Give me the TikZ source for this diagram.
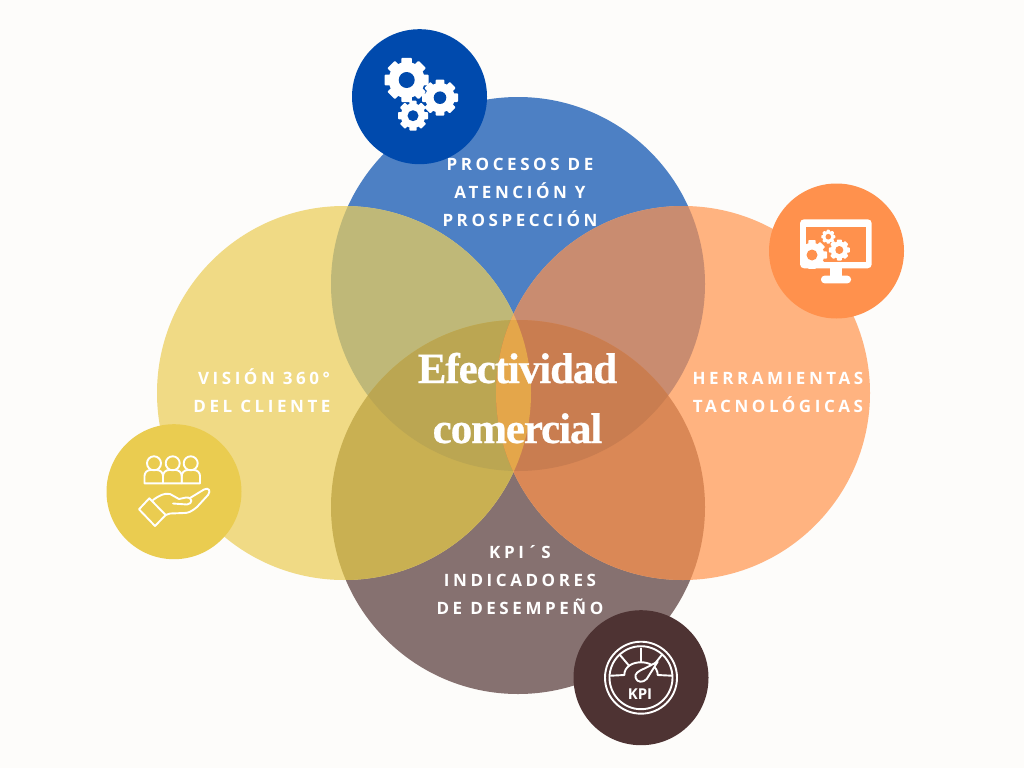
\documentclass[tikz,border=0pt]{standalone}
\usepackage{fontspec}
\setmainfont{Liberation Serif}
\newfontfamily\lbl[LetterSpace=21]{Open Sans}
\newfontfamily\kpif{Open Sans}
\newfontfamily\ttl[LetterSpace=-2.5,FakeBold=0.6]{Liberation Serif Bold}
\definecolor{bgc}{HTML}{FDFCFA}
\definecolor{cB}{HTML}{4D80C4}
\definecolor{cY}{HTML}{F0DA85}
\definecolor{cO}{HTML}{FFB380}
\definecolor{cK}{HTML}{867170}
\definecolor{cBY}{HTML}{BFB878}
\definecolor{cBO}{HTML}{C98C70}
\definecolor{cYK}{HTML}{C9B052}
\definecolor{cOK}{HTML}{DA8856}
\definecolor{cBYK}{HTML}{BBA652}
\definecolor{cBOK}{HTML}{C97D50}
\definecolor{cYO}{HTML}{EDB060}
\definecolor{cAll}{HTML}{E4A64A}
\definecolor{iB}{HTML}{004AAD}
\definecolor{iO}{HTML}{FF914D}
\definecolor{iY}{HTML}{EACC50}
\definecolor{iK}{HTML}{4E3333}
\def\pB{(518,284) circle[radius=187]}
\def\pY{(344,393) circle[radius=187]}
\def\pO{(683,393) circle[radius=187]}
\def\pK{(518,507) circle[radius=187]}
\newcommand{\ovtwo}[3]{\begin{scope}\clip #1;\fill[#3] #2;\end{scope}}
\newcommand{\ovthree}[4]{\begin{scope}\clip #1;\clip #2;\fill[#4] #3;\end{scope}}
% centre x, centre y, outer radius, hole radius, hole colour
\newcommand{\gearicon}[5]{%
  \fill[white] (#1,#2) circle[radius=#3*0.82];
  \foreach \a in {0,45,...,315}{
    \fill[white,rounded corners=0.8pt,rotate around={\a:(#1,#2)}]
      ({#1-#3*0.24},#2) rectangle ({#1+#3*0.24},{#2-#3});
  }
  \fill[#5] (#1,#2) circle[radius=#4];
}
\tikzset{
  lab/.style={text=white,font=\lbl\bfseries\fontsize{17}{20}\selectfont,inner sep=0pt,anchor=base},
  titl/.style={text=white,font=\ttl\fontsize{43}{48}\selectfont,inner sep=0pt,anchor=base},
  iline/.style={draw=white,line width=1.9pt,line join=round,line cap=round},
}
\begin{document}
\begin{tikzpicture}[x=1pt,y=-1pt]
\useasboundingbox (0,0) rectangle (1024,768);
\fill[bgc] (0,0) rectangle (1024,768);
% large circles
\fill[cB] \pB; \fill[cK] \pK; \fill[cY] \pY; \fill[cO] \pO;
\ovtwo{\pB}{\pY}{cBY}
\ovtwo{\pB}{\pO}{cBO}
\ovtwo{\pY}{\pK}{cYK}
\ovtwo{\pO}{\pK}{cOK}
\ovtwo{\pY}{\pO}{cYO}
\ovthree{\pB}{\pY}{\pK}{cBYK}
\ovthree{\pB}{\pO}{\pK}{cBOK}
\begin{scope}\clip \pB;\clip \pK;\clip \pY;\fill[cAll] \pO;\end{scope}
% labels
\node[lab] (p1) at (520,170) {PROCESOS DE};
\node[lab] (p2) at (520,198) {ATENCIÓN Y};
\node[lab] (p3) at (520,226) {PROSPECCIÓN};
\node[lab] (v1) at (264,384) {VISIÓN 360°};
\node[lab] (v2) at (262,412) {DEL CLIENTE};
\node[lab] (h1) at (778,384) {HERRAMIENTAS};
\node[lab] (h2) at (778,412) {TACNOLÓGICAS};
\node[lab] (k1) at (520,558) {KPI´S};
\node[lab] (k2) at (520,586) {INDICADORES};
\node[lab] (k3) at (520,614) {DE DESEMPEÑO};
\node[titl] (t1) at (517.5,383) {Efectividad};
\node[titl] (t2) at (517.5,443) {comercial};
% icon discs
\fill[iB] (419.5,96.7) circle[radius=67.5];
\fill[iO] (836.5,251) circle[radius=67.5];
\fill[iY] (174,491.7) circle[radius=67.5];
\fill[iK] (641,677.7) circle[radius=67.5];
% gears
\gearicon{406.7}{80}{22}{8}{iB}
\gearicon{440}{97.7}{18}{6.3}{iB}
\gearicon{413}{115.7}{15}{5.5}{iB}
% monitor
\fill[white,rounded corners=4pt] (800,219.3) rectangle (871.7,268.3);
\fill[iO] (806,226.7) rectangle (865.7,262.3);
\begin{scope}
  \clip (806,226.7) rectangle (865.7,268);
  \gearicon{812}{255}{15}{5.5}{iO}
\end{scope}
\fill[white] (806,262) rectangle (812,268);
\gearicon{839.3}{250}{10.5}{4}{iO}
\gearicon{828.3}{236.7}{7}{2.8}{iO}
\fill[white] (830,268) rectangle (841.7,277);
\fill[white,rounded corners=3.5pt] (821,275.7) rectangle (851,283.3);
% people and hand
\foreach \x in {154,172.7,190.7}{\draw[iline] (\x,463.3) circle[radius=7];}
\foreach \x/\w in {144.5/18.5,163/18.7,181.7/18.3}{
  \draw[iline] (\x,483.3) [rounded corners=6pt] -- (\x,470) -- (\x+\w,470) [sharp corners] -- (\x+\w,483.3) -- cycle;
}
\draw[iline] (149.3,498.3) -- (165.7,515) -- (155,526) -- (139,509.3) -- cycle;
\draw[iline] (153,500) .. controls (160,495) and (164,493) .. (170,494)
  -- (179,499) -- (186,497.5) .. controls (193,497) and (193,504) .. (187,504.5) -- (173,503.5);
\draw[iline] (190,498) -- (204,489.5) .. controls (209,487) and (211,491) .. (208,495)
  -- (197,507) .. controls (191,512) and (188,513) .. (184,513) -- (170,513.5) -- (165.7,515);
% KPI gauge
\draw[iline] (641,677.7) circle[radius=36];
\draw[iline] (641,677.7) circle[radius=31.5];
\draw[iline] (611,675.7) -- (624.3,675) .. controls (624.3,658) and (657.7,658) .. (657.7,675) -- (671.7,675.7);
\draw[iline] (641,648.3) -- (641,662.3);
\draw[iline] (620,655) -- (629,665.7);
\draw[iline] (661.7,655) -- (653.3,665.7);
\draw[iline,fill=iK] (657.7,661.7) -- (645,668.3) .. controls (638,671) and (634,674) .. (635.7,678)
  .. controls (637,682.5) and (643,683) .. (646.7,679) -- cycle;
\node[text=white,font=\kpif\bfseries\fontsize{15}{16}\selectfont,inner sep=0pt] (kp) at (640,694.3) {KPI};
\end{tikzpicture}
\end{document}
